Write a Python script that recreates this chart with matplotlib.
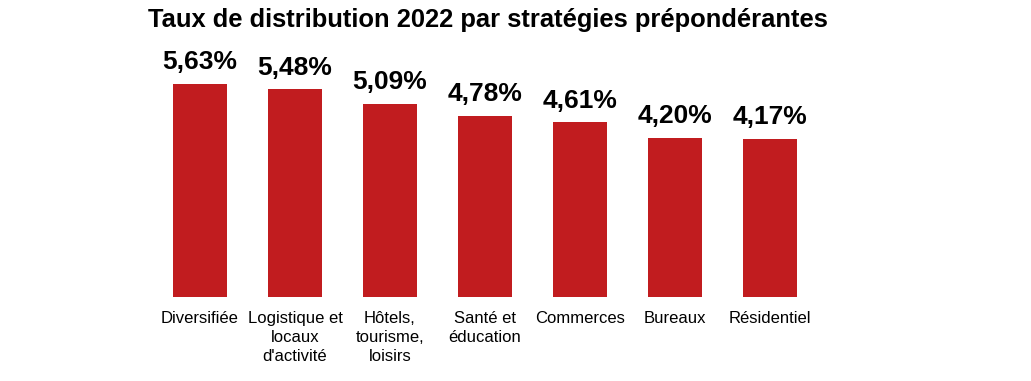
import matplotlib
matplotlib.use('Agg')
import matplotlib.pyplot as plt

# données
strategies = ['Diversifiée', 'Logistique et\nlocaux\nd\'activité', 'Hôtels,\ntourisme,\nloisirs',
              'Santé et\néducation', 'Commerces', 'Bureaux', 'Résidentiel']
taux = [5.63, 5.48, 5.09, 4.78, 4.61, 4.20, 4.17]
etiquettes = ['5,63%', '5,48%', '5,09%', '4,78%', '4,61%', '4,20%', '4,17%']

plt.rcParams['font.family'] = ['Liberation Sans', 'DejaVu Sans']

fig = plt.figure(figsize=(10.31, 3.81), dpi=100)
ax = fig.add_axes([0.1479, 0.2192, 0.645, 0.5984])

x = range(len(strategies))
bars = ax.bar(x, taux, width=0.568, color='#C11C1F')
for b, lab in zip(bars, etiquettes):
    ax.annotate(lab, (b.get_x() + b.get_width() / 2, b.get_height()),
                xytext=(0, 7), textcoords='offset points', ha='center', va='bottom',
                fontsize=19, fontweight='bold', color='black')

ax.set_xlim(-0.5, 6.5)
ax.set_ylim(0, 6)
ax.set_xticks(list(x))
ax.set_xticklabels(strategies, fontsize=12, linespacing=1.32)
ax.tick_params(axis='x', length=0, pad=10)
ax.set_yticks([])
for s in ax.spines.values():
    s.set_visible(False)

fig.text(0.4735, 0.93, 'Taux de distribution 2022 par stratégies prépondérantes',
         ha='center', va='baseline', fontsize=18.4, fontweight='bold')

fig.savefig('out.png', dpi=100)
